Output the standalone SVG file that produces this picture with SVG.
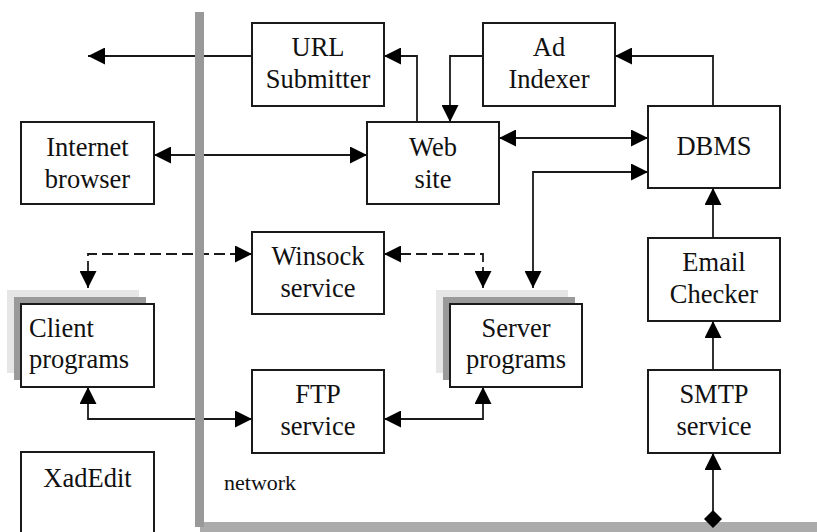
<svg xmlns="http://www.w3.org/2000/svg" width="817" height="532" viewBox="0 0 817 532">
<style>
.box{fill:#fff;stroke:#1a1a1a;stroke-width:2}
.t{font-family:"Liberation Serif","Times New Roman",serif;font-size:26.5px;fill:#111;text-anchor:middle}
.tl{text-anchor:start}
.c{fill:none;stroke:#1a1a1a;stroke-width:1.8}
.d{stroke-dasharray:11 5}
.sh1{fill:#e6e6e6}
.sh2{fill:#9a9a9a}
</style>
<defs>
<marker id="ah" markerUnits="userSpaceOnUse" markerWidth="17" markerHeight="17" refX="17" refY="8.5" orient="auto-start-reverse" viewBox="0 0 17 17">
<path d="M0,0 L17,8.5 L0,17 z" fill="#000"/>
</marker>
</defs>

<g id="connectors">
<path class="c" d="M252,56 H88" marker-end="url(#ah)"/>
<path class="c" d="M417,122 V56 H384" marker-end="url(#ah)"/>
<path class="c" d="M483,56 H450 V122" marker-end="url(#ah)"/>
<path class="c" d="M713,106 V56 H615" marker-end="url(#ah)"/>
<path class="c" d="M154,155 H367" marker-start="url(#ah)" marker-end="url(#ah)"/>
<path class="c" d="M499,138 H648" marker-start="url(#ah)" marker-end="url(#ah)"/>
<path class="c" d="M533,288 V172 H648" marker-start="url(#ah)" marker-end="url(#ah)"/>
<path class="c" d="M713,238 V188" marker-end="url(#ah)"/>
<path class="c" d="M713,370 V321" marker-end="url(#ah)"/>
<path class="c" d="M713,519 V453" marker-end="url(#ah)"/>
<path class="c d" d="M88,288 V254 H252" marker-start="url(#ah)" marker-end="url(#ah)"/>
<path class="c d" d="M384,254 H483 V288" marker-start="url(#ah)" marker-end="url(#ah)"/>
<path class="c" d="M88,387 V419 H252" marker-start="url(#ah)" marker-end="url(#ah)"/>
<path class="c" d="M384,419 H483 V387" marker-start="url(#ah)" marker-end="url(#ah)"/>
</g>

<g id="network">
<rect x="200" y="522" width="620" height="12" fill="#ababab"/>
<rect x="195" y="12" width="9" height="515" fill="#999"/>
<path d="M713,510 L722,519 L713,528 L704,519 z" fill="#000"/>
<text x="224" y="490" style="font-family:'Liberation Serif','Times New Roman',serif;font-size:22px;fill:#111">network</text>
</g>

<g id="url-submitter">
<rect class="box" x="252" y="23" width="132" height="83"/>
<text class="t" x="318" y="56">URL</text>
<text class="t" x="318" y="88">Submitter</text>
</g>

<g id="ad-indexer">
<rect class="box" x="483" y="23" width="132" height="83"/>
<text class="t" x="549" y="56">Ad</text>
<text class="t" x="549" y="88">Indexer</text>
</g>

<g id="internet-browser">
<rect class="box" x="21" y="122" width="133" height="82"/>
<text class="t" x="87.5" y="156">Internet</text>
<text class="t" x="87.5" y="188">browser</text>
</g>

<g id="web-site">
<rect class="box" x="367" y="122" width="132" height="82"/>
<text class="t" x="433" y="156">Web</text>
<text class="t" x="433" y="188">site</text>
</g>

<g id="dbms">
<rect class="box" x="648" y="106" width="132" height="82"/>
<text class="t" x="714" y="155">DBMS</text>
</g>

<g id="winsock-service">
<rect class="box" x="252" y="232" width="132" height="82"/>
<text class="t" x="318" y="265">Winsock</text>
<text class="t" x="318" y="297">service</text>
</g>

<g id="client-programs">
<rect class="sh1" x="7" y="290" width="132" height="83"/>
<rect class="sh2" x="14" y="297" width="132" height="83"/>
<rect class="box" x="21" y="304" width="133" height="83"/>
<text class="t tl" x="29" y="337">Client</text>
<text class="t tl" x="29" y="368">programs</text>
</g>

<g id="server-programs">
<rect class="sh1" x="436" y="290" width="132" height="83"/>
<rect class="sh2" x="443" y="297" width="132" height="83"/>
<rect class="box" x="450" y="304" width="132" height="83"/>
<text class="t" x="516" y="337">Server</text>
<text class="t" x="516" y="368">programs</text>
</g>

<g id="email-checker">
<rect class="box" x="648" y="238" width="132" height="83"/>
<text class="t" x="714" y="271">Email</text>
<text class="t" x="714" y="303">Checker</text>
</g>

<g id="ftp-service">
<rect class="box" x="252" y="370" width="132" height="83"/>
<text class="t" x="318" y="403">FTP</text>
<text class="t" x="318" y="435">service</text>
</g>

<g id="smtp-service">
<rect class="box" x="648" y="370" width="132" height="83"/>
<text class="t" x="714" y="403">SMTP</text>
<text class="t" x="714" y="435">service</text>
</g>

<g id="xadedit">
<rect class="box" x="21" y="452" width="133" height="100"/>
<text class="t" x="87.5" y="487">XadEdit</text>
</g>
</svg>
